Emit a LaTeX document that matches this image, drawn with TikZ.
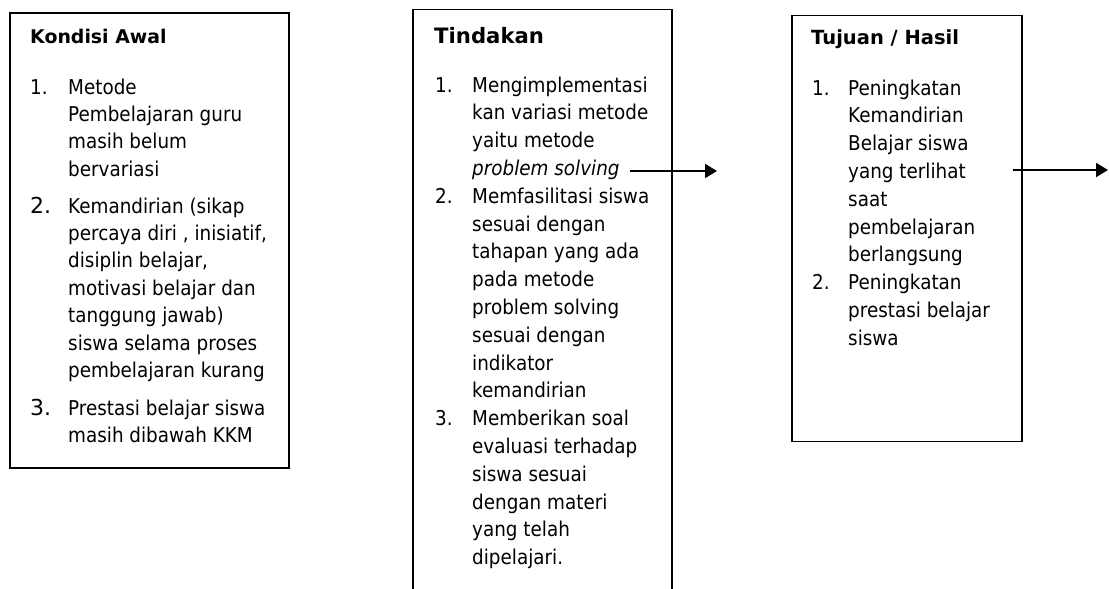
\documentclass[tikz,border=0pt]{standalone}
\usepackage{fontspec}
\setmainfont{DejaVu Sans}[FakeStretch=0.9]
\newfontfamily\titlefont{DejaVu Sans}
\usetikzlibrary{arrows.meta}
\newcommand\ml[1]{\begin{tabular}[t]{@{}l@{}}#1\end{tabular}}
\tikzset{
  box/.style={draw=black, line width=1.5pt, inner sep=0pt},
  txt/.style={inner sep=0pt, anchor=base west, font=\fontsize{20.4}{27.4}\selectfont},
  txtm/.style={inner sep=0pt, anchor=base west, font=\fontsize{20.4}{27.8}\selectfont},
  bignum/.style={inner sep=0pt, anchor=base west, font=\fontsize{22}{26}\selectfont\titlefont},
  ttl/.style={inner sep=0pt, anchor=base west, font=\titlefont\bfseries\fontsize{18.9}{22}\selectfont},
  ttlbig/.style={inner sep=0pt, anchor=base west, font=\titlefont\bfseries\fontsize{21.2}{24}\selectfont},
  ttlr/.style={inner sep=0pt, anchor=base west, font=\titlefont\bfseries\fontsize{19.5}{22}\selectfont},
  arr/.style={line width=2pt, -{Triangle[length=12pt,width=14pt]}}
}
\begin{document}
\begin{tikzpicture}[x=1pt,y=1pt]
\useasboundingbox (0,0) rectangle (1109,-589);
% left box
\node[box, anchor=north west, minimum width=279pt, minimum height=455pt] (kondisi) at (9,-12) {};
\node[ttl] (t1) at (30,-43) {Kondisi Awal};
\node[txt] (l1n) at (30,-94) {1.};
\node[txt] (l1) at (68,-94) {\ml{Metode\\Pembelajaran guru\\masih belum\\bervariasi}};
\node[bignum] (l2n) at (30,-213) {2.};
\node[txt] (l2) at (68,-213) {\ml{Kemandirian (sikap\\percaya diri , inisiatif,\\disiplin belajar,\\motivasi belajar dan\\tanggung jawab)\\siswa selama proses\\pembelajaran kurang}};
\node[bignum] (l3n) at (30,-415) {3.};
\node[txt] (l3) at (68,-415) {\ml{Prestasi belajar siswa\\masih dibawah KKM}};
% middle box (open at the bottom)
\coordinate (m1) at (413,-589);
\coordinate (m2) at (413,-9.5);
\coordinate (m3) at (672,-9.5);
\coordinate (m4) at (672,-589);
\draw[line width=1.5pt] (m1) -- (m2) -- (m3) -- (m4);
\node[ttlbig] (t2) at (434,-43) {Tindakan};
\node[txtm] (m1n) at (435,-92) {1.};
\node[txtm] (mi1) at (472,-92) {\ml{Mengimplementasi\\kan variasi metode\\yaitu metode\\\textit{problem solving}}};
\node[txtm] (m2n) at (435,-203.2) {2.};
\node[txtm] (mi2) at (472,-203.2) {\ml{Memfasilitasi siswa\\sesuai dengan\\tahapan yang ada\\pada metode\\problem solving\\sesuai dengan\\indikator\\kemandirian}};
\node[txtm] (m3n) at (435,-425.6) {3.};
\node[txtm] (mi3) at (472,-425.6) {\ml{Memberikan soal\\evaluasi terhadap\\siswa sesuai\\dengan materi\\yang telah\\dipelajari.}};
% right box
\node[box, anchor=north west, minimum width=230pt, minimum height=426pt] (tujuan) at (791,-14.7) {};
\node[ttlr] (t3) at (811,-45) {Tujuan / Hasil};
\node[txtm] (r1n) at (812,-95) {1.};
\node[txtm] (r1) at (848,-95) {\ml{Peningkatan\\Kemandirian\\Belajar siswa\\yang terlihat\\saat\\pembelajaran\\berlangsung}};
\node[txtm] (r2n) at (812,-289.6) {2.};
\node[txtm] (r2) at (848,-289.6) {\ml{Peningkatan\\prestasi belajar\\siswa}};
% arrows
\coordinate (a1s) at (630,-171);
\coordinate (a1e) at (717,-171);
\coordinate (a2s) at (1012.7,-170);
\coordinate (a2e) at (1108,-170);
\draw[arr] (a1s) -- (a1e);
\draw[arr] (a2s) -- (a2e);
\end{tikzpicture}
\end{document}
